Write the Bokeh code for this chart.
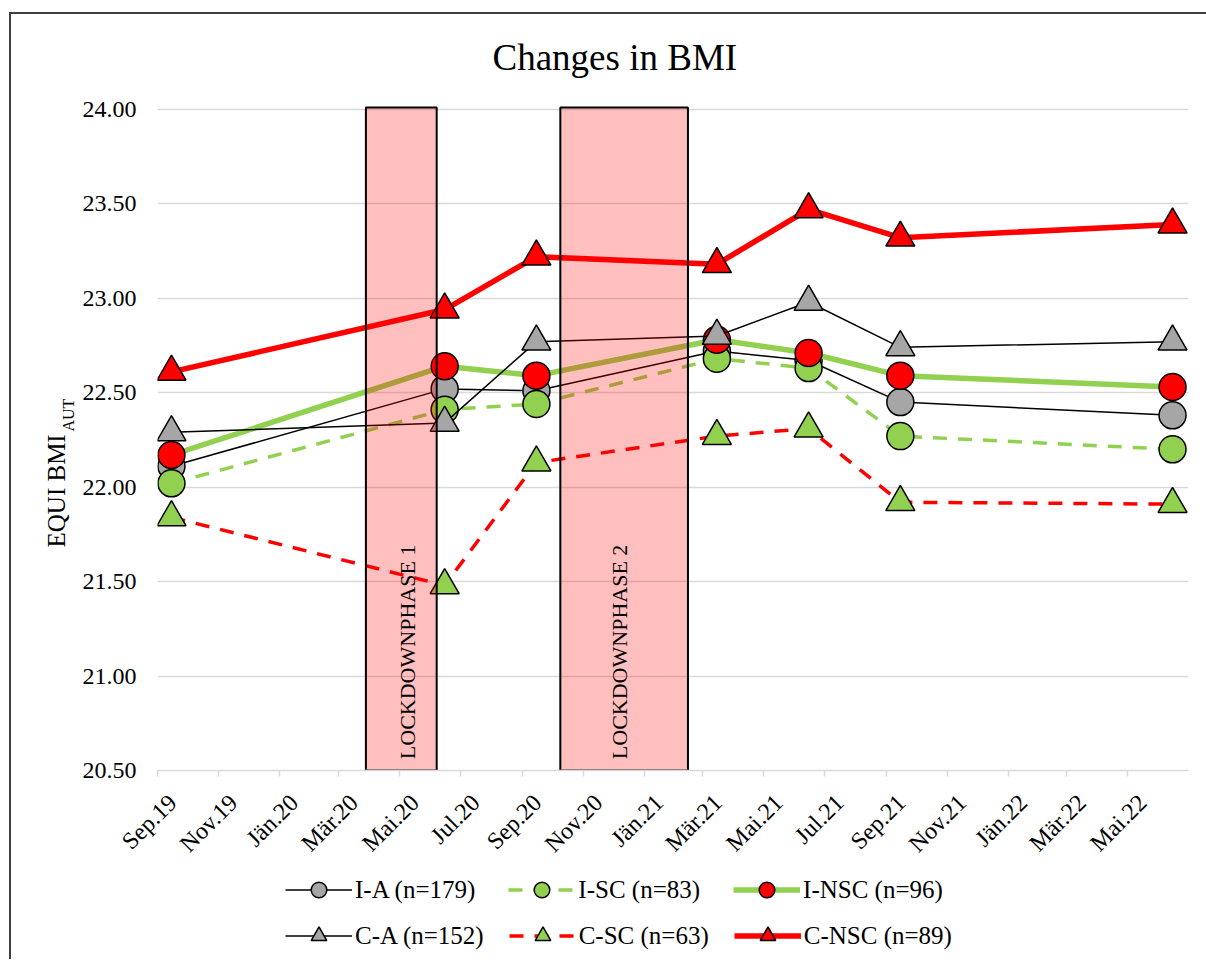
import pandas as pd
from math import pi
from bokeh.plotting import figure
from bokeh.layouts import column
from bokeh.models import (Range1d, FixedTicker, Legend, LegendItem, LinearAxis, Title,
                          ColumnDataSource, CustomJSTickFormatter)
from bokeh.core.properties import value
from bokeh.embed import file_html
from bokeh.resources import INLINE

# ---------------- data ----------------
survey_dates = ["2019-09-15", "2020-06-15", "2020-09-15", "2021-03-15",
                "2021-06-15", "2021-09-15", "2022-06-15"]
i_a = [22.11, 22.52, 22.51, 22.72, 22.67, 22.45, 22.38]
i_sc = [22.02, 22.41, 22.44, 22.68, 22.63, 22.27, 22.20]
i_nsc = [22.17, 22.64, 22.59, 22.78, 22.71, 22.59, 22.53]
c_a = [22.29, 22.34, 22.77, 22.80, 22.98, 22.74, 22.77]
c_sc = [21.84, 21.48, 22.13, 22.27, 22.31, 21.92, 21.91]
c_nsc = [22.61, 22.94, 23.22, 23.18, 23.47, 23.32, 23.39]
series_names = ["I-A (n=179)", "I-SC (n=83)", "I-NSC (n=96)",
                "C-A (n=152)", "C-SC (n=63)", "C-NSC (n=89)"]

lockdown_start = ["2020-03-28", "2020-10-09"]
lockdown_end = ["2020-06-07", "2021-02-14"]
lockdown_labels = ["LOCKDOWNPHASE 1", "LOCKDOWNPHASE 2"]
lockdown_label_dates = ["2020-05-09", "2020-12-07"]

tick_dates = ["2019-09-01", "2019-11-01", "2020-01-01", "2020-03-01", "2020-05-01",
              "2020-07-01", "2020-09-01", "2020-11-01", "2021-01-01", "2021-03-01",
              "2021-05-01", "2021-07-01", "2021-09-01", "2021-11-01", "2022-01-01",
              "2022-03-01", "2022-05-01"]
tick_labels = ["Sep.19", "Nov.19", "Jän.20", "Mär.20", "Mai.20", "Jul.20", "Sep.20",
               "Nov.20", "Jän.21", "Mär.21", "Mai.21", "Jul.21", "Sep.21", "Nov.21",
               "Jän.22", "Mär.22", "Mai.22"]
y_ticks = [20.5, 21.0, 21.5, 22.0, 22.5, 23.0, 23.5, 24.0]
x_start, x_end = "2019-09-01", "2022-07-01"


def to_ms(dates):
    return [float(v) for v in (pd.to_datetime(dates).astype("int64") // 10**6)]


DAY = 86400000.0
xs = to_ms(survey_dates)
FONT = "Liberation Serif"
W = 1195

p = figure(width=W, height=856, output_backend="svg", toolbar_location=None,
           title=None, min_border_left=146, min_border_right=18,
           min_border_top=91, min_border_bottom=100,
           x_range=Range1d(to_ms([x_start])[0], to_ms([x_end])[0]),
           y_range=Range1d(20.5, 24.02))
p.outline_line_color = None
p.background_fill_color = "white"
p.border_fill_color = "white"

# ---------------- y axis ----------------
p.xgrid.grid_line_color = None
p.ygrid.grid_line_color = "#d9d9d9"
p.ygrid.grid_line_width = 1.5
p.yaxis.ticker = FixedTicker(ticks=y_ticks)
p.yaxis.formatter = CustomJSTickFormatter(code="return tick.toFixed(2);")
p.yaxis.axis_line_color = None
p.yaxis.major_tick_line_color = None
p.yaxis.major_tick_out = 0
p.yaxis.major_tick_in = 0
p.yaxis.minor_tick_line_color = None
p.yaxis.major_label_text_font = FONT
p.yaxis.major_label_text_font_size = "24px"
p.yaxis.major_label_text_color = "black"
p.yaxis.major_label_standoff = 21

# ---------------- x axis: line and tick marks ----------------
tick_ms = to_ms(tick_dates)
xa = p.xaxis[0]
xa.ticker = FixedTicker(ticks=tick_ms)
xa.formatter = CustomJSTickFormatter(code='return "";')
xa.axis_line_color = "#d9d9d9"
xa.axis_line_width = 1.5
xa.major_tick_line_color = "#d9d9d9"
xa.major_tick_line_width = 1.5
xa.major_tick_out = 6
xa.major_tick_in = 0
xa.minor_tick_line_color = None
xa.major_label_text_font_size = "2px"
xa.major_label_standoff = 0

# ---------------- x axis: labels (Excel-like anchoring) ----------------
label_ms = [t + 15 * DAY for t in tick_ms]
xl = LinearAxis(ticker=FixedTicker(ticks=label_ms),
                formatter=CustomJSTickFormatter(args=dict(tvals=label_ms, tlabels=tick_labels),
                                                code="""
    for (let i = 0; i < tvals.length; i++) {
        if (Math.abs(tvals[i] - tick) < 1000) return tlabels[i];
    }
    return "";
"""),
                axis_line_color=None, major_tick_line_color=None, minor_tick_line_color=None,
                major_tick_out=0, major_tick_in=0, major_label_orientation=pi / 4,
                major_label_text_font=FONT, major_label_text_font_size="24px",
                major_label_text_color="black", major_label_standoff=22)
p.add_layout(xl, "below")

# ---------------- series ----------------
styles = [
    dict(color="black", width=1.5, dash="solid", marker="circle", fill="#a6a6a6"),
    dict(color="#92d050", width=3.5, dash="14 11", marker="circle", fill="#92d050"),
    dict(color="#92d050", width=5.5, dash="solid", marker="circle", fill="#ff0000"),
    dict(color="black", width=1.5, dash="solid", marker="triangle", fill="#a6a6a6"),
    dict(color="#ff0000", width=3.5, dash="14 11", marker="triangle", fill="#92d050"),
    dict(color="#ff0000", width=5.5, dash="solid", marker="triangle", fill="#ff0000"),
]
values = [i_a, i_sc, i_nsc, c_a, c_sc, c_nsc]
for vals, st in zip(values, styles):
    src = ColumnDataSource(dict(x=xs, y=vals))
    p.line("x", "y", source=src, line_color=st["color"], line_width=st["width"],
           line_dash=st["dash"])
    size = 27 if st["marker"] == "circle" else 29
    p.scatter("x", "y", source=src, marker=st["marker"], size=size,
              fill_color=st["fill"], line_color="black", line_width=1.5)

# ---------------- lockdown phases (on top, translucent) ----------------
ls, le = to_ms(lockdown_start), to_ms(lockdown_end)
lsrc = ColumnDataSource(dict(left=ls, right=le, bottom=[20.5, 20.5], top=[24.01, 24.01],
                             mid=to_ms(lockdown_label_dates), text=lockdown_labels,
                             ty=[20.56, 20.56]))
p.quad(left="left", right="right", bottom="bottom", top="top", source=lsrc,
       fill_color="#ff0000", fill_alpha=0.25, line_color="black", line_width=2)
p.text(x="mid", y="ty", text="text", source=lsrc, angle=pi / 2, text_align="left",
       text_baseline="middle", text_font=value(FONT), text_font_size="22px",
       text_color="black")

# ---------------- titles ----------------
p.add_layout(Title(text=" ", standoff=5, text_font=FONT, text_font_size="6px",
                   text_font_style="normal"), "above")
p.add_layout(Title(text="Changes in BMI", align="left", offset=335, standoff=30,
                   text_font=FONT, text_font_size="37px", text_font_style="normal",
                   text_color="black"), "above")
p.add_layout(Title(text="AUT", align="left", offset=339, standoff=6,
                   text_font=FONT, text_font_size="16px", text_font_style="normal",
                   text_color="black"), "left")
p.add_layout(Title(text="EQUI BMI", align="left", offset=223, standoff=-30,
                   text_font=FONT, text_font_size="25px", text_font_style="normal",
                   text_color="black"), "left")

# ---------------- legend (own strip below the chart) ----------------
pleg = figure(width=W, height=89, output_backend="svg", toolbar_location=None,
              title=None, x_axis_location=None, y_axis_location=None, min_border=0,
              x_range=Range1d(0, 1), y_range=Range1d(0, 1))
pleg.outline_line_color = None
pleg.grid.visible = False
pleg.border_fill_color = "white"
pleg.background_fill_color = "white"
items = []
for name, st in zip(series_names, styles):
    offscreen = ColumnDataSource(dict(x=[5, 6], y=[5, 6]))
    lr = pleg.line("x", "y", source=offscreen, line_color=st["color"], line_width=st["width"],
                   line_dash=st["dash"])
    sr = pleg.scatter("x", "y", source=offscreen, marker=st["marker"], size=16,
                      fill_color=st["fill"], line_color="black", line_width=1.5)
    items.append(LegendItem(label=name, renderers=[lr, sr]))

legend_kw = dict(orientation="horizontal", label_text_font=FONT, label_text_font_size="25px",
                 label_text_color="black", glyph_width=67, glyph_height=39, label_standoff=3,
                 padding=0, margin=0, border_line_color=None, background_fill_alpha=0)
pleg.add_layout(Legend(items=items[:3], location=(128, 50), spacing=33, **legend_kw), "center")
pleg.add_layout(Legend(items=items[3:], location=(128, 4), spacing=25, **legend_kw), "center")

layout = column(p, pleg, spacing=0)
layout.styles = {"position": "relative", "left": "9px", "top": "12px",
                 "border-left": "2px solid #404040", "border-top": "2px solid #404040"}

open("out.html", "w").write(file_html(layout, INLINE))
